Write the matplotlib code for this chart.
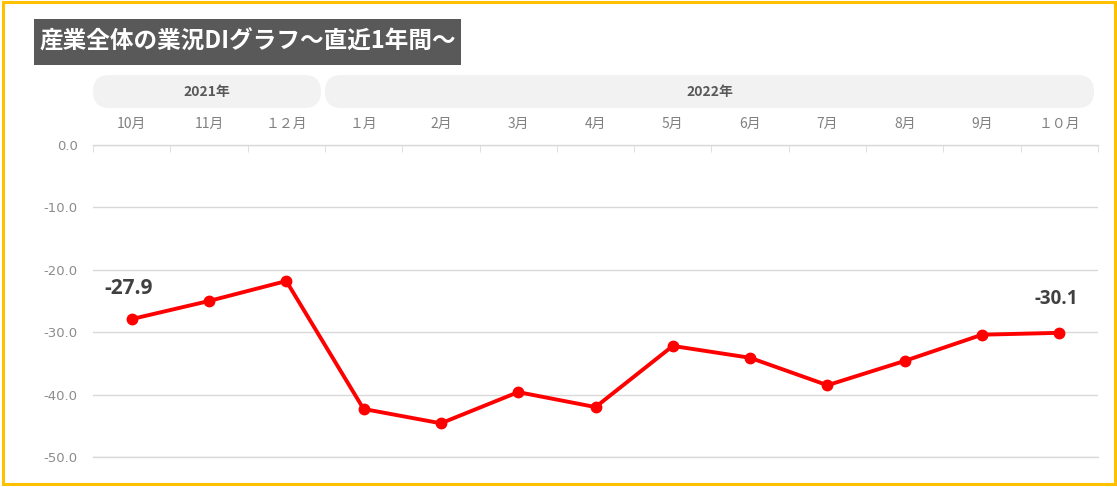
import matplotlib
matplotlib.use("Agg")
import matplotlib.pyplot as plt
from matplotlib.patches import FancyBboxPatch, Rectangle

plt.rcParams['font.family'] = ['Noto Sans CJK JP', 'DejaVu Sans']

# ---- data ----
months = ["10月", "11月", "１２月", "１月", "2月", "3月", "4月", "5月", "6月", "7月", "8月", "9月", "１０月"]
values = [-27.9, -25.0, -21.8, -42.3, -44.6, -39.6, -42.0, -32.2, -34.1, -38.5, -34.6, -30.4, -30.1]
years = ["2021年", "2022年"]
year_spans = [(0, 2), (3, 12)]
yticks = [0, -10, -20, -30, -40, -50]
title = "産業全体の業況DIグラフ～直近1年間～"

W, H = 1117, 487
fig = plt.figure(figsize=(W / 100, H / 100), dpi=100)
fig.patch.set_facecolor("white")

# background overlay in pixel coordinates
bg = fig.add_axes([0, 0, 1, 1])
bg.set_xlim(0, W)
bg.set_ylim(H, 0)
bg.axis("off")
bg.add_patch(Rectangle((2.5, 1.5), W - 5, H - 4.5, fill=False, edgecolor="#FFC000", lw=2.2))
bg.add_patch(Rectangle((34, 19), 427, 46, facecolor="#595959", edgecolor="none"))
bg.text(40, 42, title, color="white", fontsize=17, fontweight="bold", va="center", ha="left")

left_px, right_px, top_px, bot_px = 93, 1098, 145, 457
ncat = len(months)
cw = (right_px - left_px) / ncat
for (a, b), label in zip(year_spans, years):
    x0 = left_px + a * cw
    x1 = left_px + (b + 1) * cw - 4
    y0, y1 = 75, 108
    r = (y1 - y0) / 2
    bg.add_patch(FancyBboxPatch((x0, y0), x1 - x0, y1 - y0,
                                boxstyle=f"round,pad=0,rounding_size={r}",
                                facecolor="#F2F2F2", edgecolor="none"))
    bg.text((x0 + x1) / 2, 92, label, ha="center", va="center", fontsize=10,
            fontweight="bold", color="#595959")

ax = fig.add_axes([left_px / W, 1 - bot_px / H, (right_px - left_px) / W, (bot_px - top_px) / H])
ax.patch.set_alpha(0)
x = list(range(ncat))
ax.plot(x, values, color="#FF0000", lw=2.8, marker="o", markersize=7.5, zorder=3)
ax.set_xlim(-0.5, ncat - 0.5)
ax.set_ylim(-50, 0)
ax.set_yticks(yticks)
ax.set_yticklabels([f"{v:.1f}" for v in yticks], color="#8C8C8C", fontsize=9.5,
                   family=["DejaVu Sans"])
ax.tick_params(axis="y", length=0, pad=11)
ax.yaxis.grid(True, color="#D9D9D9", lw=1)
for s in ["left", "right"]:
    ax.spines[s].set_visible(False)
for s in ["top", "bottom"]:
    ax.spines[s].set_color("#D9D9D9")
    ax.spines[s].set_linewidth(1)
ax.xaxis.tick_top()
ax.set_xticks(x)
ax.set_xticklabels(months, color="#808080", fontsize=10)
ax.tick_params(axis="x", which="major", length=0, pad=10)
ax.set_xticks([i - 0.5 for i in range(ncat + 1)], minor=True)
ax.tick_params(axis="x", which="minor", direction="in", length=5, color="#D9D9D9", top=True, bottom=False)

ax.annotate(f"{values[0]:.1f}", (0, values[0]), xytext=(-2, 22), textcoords="offset points",
            ha="center", va="center", fontsize=15, fontweight="bold", color="#404040",
            family=["Open Sans"])
ax.annotate(f"{values[-1]:.1f}", (ncat - 1, values[-1]), xytext=(-2, 24.5), textcoords="offset points",
            ha="center", va="center", fontsize=13.5, fontweight="bold", color="#404040",
            family=["Open Sans"])

fig.savefig("out.png", dpi=100)
